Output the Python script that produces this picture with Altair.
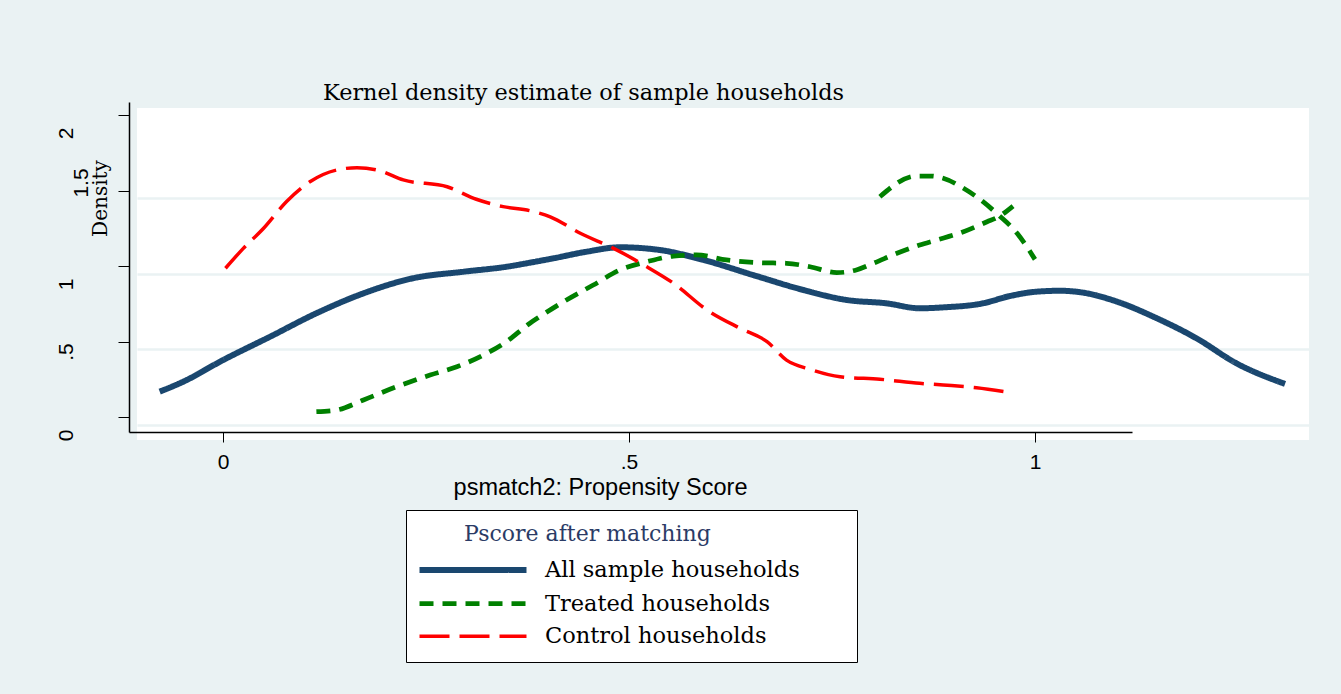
import altair as alt
import pandas as pd

# ---- data ----
series_names = ["All sample households", "Treated households", "Control households"]

all_x = [-0.078, -0.049, 0.000, 0.058, 0.115, 0.173, 0.234, 0.296, 0.349, 0.378, 0.407,
         0.448, 0.489, 0.538, 0.592, 0.653, 0.715, 0.768, 0.817, 0.858, 0.887, 0.936,
         0.969, 1.002, 1.031, 1.060, 1.101, 1.150, 1.199, 1.248, 1.308]
all_y = [0.168, 0.234, 0.377, 0.532, 0.687, 0.819, 0.919, 0.962, 0.995, 1.022, 1.051,
         1.095, 1.124, 1.106, 1.040, 0.940, 0.841, 0.775, 0.753, 0.720, 0.726, 0.753,
         0.801, 0.830, 0.836, 0.823, 0.764, 0.654, 0.521, 0.356, 0.219]

treated_x = [0.115, 0.140, 0.173, 0.214, 0.255, 0.288, 0.321, 0.349, 0.378, 0.390, 0.423,
             0.456, 0.489, 0.522, 0.555, 0.583, 0.620, 0.661, 0.694, 0.723, 0.756, 0.780,
             0.801, 0.830, 0.858, 0.879, 0.912, 0.941, 0.955, 0.973]
treated_y = [0.035, 0.046, 0.113, 0.201, 0.278, 0.333, 0.411, 0.499, 0.621, 0.664, 0.775,
             0.874, 0.974, 1.028, 1.066, 1.073, 1.040, 1.022, 1.018, 0.995, 0.956, 0.974,
             1.018, 1.084, 1.139, 1.172, 1.227, 1.293, 1.326, 1.397]

treated2_x = [0.809, 0.854, 0.871, 0.887, 0.912, 0.936, 0.955, 0.978, 1.000]
treated2_y = [1.459, 1.596, 1.596, 1.581, 1.515, 1.426, 1.338, 1.217, 1.044]

control_x = [0.003, 0.025, 0.050, 0.078, 0.107, 0.140, 0.165, 0.193, 0.222, 0.276, 0.312,
             0.345, 0.378, 0.403, 0.440, 0.481, 0.522, 0.555, 0.596, 0.637, 0.670, 0.694,
             0.723, 0.760, 0.809, 0.858, 0.887, 0.928, 0.963]
control_y = [0.985, 1.117, 1.250, 1.426, 1.558, 1.636, 1.651, 1.631, 1.570, 1.525, 1.442,
             1.393, 1.366, 1.326, 1.217, 1.117, 0.995, 0.885, 0.709, 0.587, 0.499, 0.377,
             0.316, 0.267, 0.250, 0.223, 0.212, 0.194, 0.168]

y_ticks = [0, 0.5, 1, 1.5, 2]
x_ticks = [0, 0.5, 1]
grid_values = [0, 0.5, 1, 1.5]

# ---- styles ----
colors = ["#1a476f", "#008000", "#ff0000"]
dashes = [[1, 0], [14, 9], [30, 10]]
widths = [6, 3.5, 3]
BG = "#eaf2f3"

rows = []
for x, y in zip(all_x, all_y):
    rows.append({"x": x, "y": y, "series": series_names[0], "seg": "all"})
for x, y in zip(treated_x, treated_y):
    rows.append({"x": x, "y": y, "series": series_names[1], "seg": "t1"})
for x, y in zip(treated2_x, treated2_y):
    rows.append({"x": x, "y": y, "series": series_names[1], "seg": "t2"})
for x, y in zip(control_x, control_y):
    rows.append({"x": x, "y": y, "series": series_names[2], "seg": "c"})
df = pd.DataFrame(rows)

label_expr = "datum.value == 0.5 ? '.5' : toString(datum.value)"

# zero-width marks keep the spacing (which places the title inside the box) from being trimmed
legend_title = "\u200b\u2003\u2003Pscore after matching" + "\u2003" * 6 + "\u200b"

legend = alt.Legend(
    title=legend_title,
    orient="none", legendX=269, legendY=402, direction="vertical",
    symbolType="M-6,0H6", symbolSize=318, symbolOffset=41,
    labelFont="DejaVu Serif", labelFontSize=22.5, labelColor="black", labelOffset=60,
    labelLimit=600, titleLimit=800,
    titleFont="DejaVu Serif", titleFontSize=22, titleFontWeight="normal",
    titleColor="#2b3b66", titlePadding=12,
    strokeColor="black", fillColor="white", padding=14, rowPadding=10,
)

x_axis = alt.Axis(
    orient="bottom", values=x_ticks, labelExpr=label_expr, grid=False, offset=-8,
    tickSize=10, labelPadding=9, domainWidth=1.5,
    title="psmatch2: Propensity Score", titleFont="Liberation Sans", titleFontSize=23.5,
    titleFontWeight="normal", titleColor="black", titleX=463, titleY=55,
    titleAlign="center", titleBaseline="middle",
)

y_axis = alt.Axis(
    orient="left", values=y_ticks, labelExpr=label_expr, grid=False, offset=8,
    tickSize=11, domainWidth=1.5, labelAngle=270, labelAlign="center", labelBaseline="bottom",
    labelPadding={"condition": {"test": "datum.value == 1.5", "value": 27}, "value": 42},
    labelOffset={"condition": [{"test": "datum.value == 1.5", "value": -8},
                               {"test": "datum.value == 0.5", "value": 10}], "value": 18},
    title="Density", titleFont="DejaVu Serif", titleFontSize=20, titleFontWeight="normal",
    titleColor="black", titleAngle=270, titleX=-29, titleY=90,
    titleAlign="center", titleBaseline="middle",
)

lines = alt.Chart(df).mark_line(interpolate="monotone", strokeCap="butt").encode(
    x=alt.X("x:Q", scale=alt.Scale(domain=[-0.1158, 1.1195], range=[-8, 995], nice=False, zero=False), axis=x_axis),
    y=alt.Y("y:Q", scale=alt.Scale(domain=[-0.0993, 2.0861], range=[324, -6], nice=False, zero=False), axis=y_axis),
    color=alt.Color("series:N", scale=alt.Scale(domain=series_names, range=colors), legend=legend),
    strokeDash=alt.StrokeDash("series:N", scale=alt.Scale(domain=series_names, range=dashes), legend=legend),
    strokeWidth=alt.StrokeWidth("series:N", scale=alt.Scale(domain=series_names, range=widths), legend=legend),
    detail="seg:N",
)

grid = alt.Chart(df).mark_line(opacity=0).encode(
    x=alt.X("x:Q", axis=None, scale=alt.Scale(domain=[-0.1059, 1.3374], nice=False, zero=False)),
    y=alt.Y("y:Q", scale=alt.Scale(domain=[-0.099, 2.094], nice=False, zero=False),
            axis=alt.Axis(orient="right", grid=True, gridColor=BG, gridWidth=2.5, labels=False,
                          ticks=False, domain=False, title=None, values=grid_values)),
    detail="seg:N",
)

chart = alt.layer(grid, lines).resolve_scale(x="independent", y="independent").properties(
    width=1172, height=332,
    autosize=alt.AutoSizeParams(type="none"),
    padding={"left": 137, "top": 108, "right": 32, "bottom": 254},
    background=BG,
    title=alt.TitleParams(
        "Kernel density estimate of sample households", anchor="start", frame="group",
        dx=186, font="DejaVu Serif", fontSize=22.4, fontWeight="normal", color="black",
    ),
).configure_view(fill="white", stroke=None).configure_axis(
    labelFont="Liberation Sans", labelFontSize=21, labelColor="black",
    tickColor="black", domainColor="black",
)

chart.save("out.html", embed_options={"renderer": "svg", "actions": False})
